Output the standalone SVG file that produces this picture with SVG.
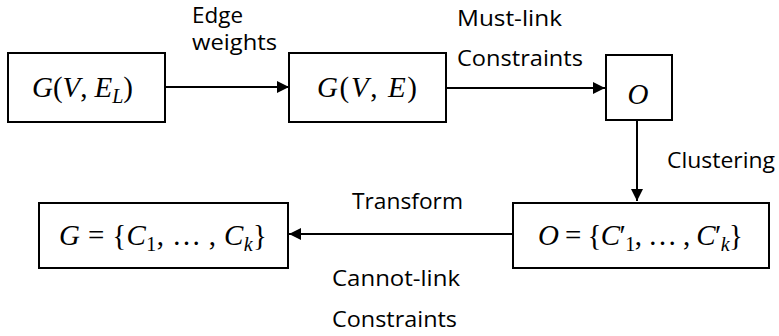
<svg xmlns="http://www.w3.org/2000/svg" width="779" height="336" viewBox="0 0 779 336">
  <style>
    .box { fill: #fff; stroke: #000; stroke-width: 2; }
    .edge { stroke: #000; stroke-width: 2; fill: none; marker-end: url(#arrow); }
    .lbl { font-family: "Open Sans", "Noto Sans", sans-serif; font-size: 21px; fill: #000; }
    .math { font-family: "Liberation Serif", "DejaVu Serif", serif; font-size: 29px; fill: #000; }
    .it { font-style: italic; }
    .sub { font-size: 20px; }
  </style>
  <defs>
    <marker id="arrow" markerWidth="12" markerHeight="12" refX="12" refY="6" orient="auto" markerUnits="userSpaceOnUse">
      <path d="M0,0 L12,6 L0,12 Z" fill="#000"/>
    </marker>
  </defs>

  <g id="connectors">
    <line class="edge" x1="165" y1="87" x2="289" y2="87"/>
    <line class="edge" x1="446" y1="88" x2="605" y2="88"/>
    <line class="edge" x1="637" y1="121" x2="637" y2="201"/>
    <line class="edge" x1="512" y1="234" x2="289" y2="234"/>
  </g>

  <g id="labels">
    <text class="lbl" x="192" y="23" textLength="51" lengthAdjust="spacingAndGlyphs">Edge</text>
    <text class="lbl" x="192" y="50" textLength="85" lengthAdjust="spacingAndGlyphs">weights</text>
    <text class="lbl" x="457" y="26" textLength="105" lengthAdjust="spacingAndGlyphs">Must-link</text>
    <text class="lbl" x="457" y="66" textLength="126" lengthAdjust="spacingAndGlyphs">Constraints</text>
    <text class="lbl" x="667" y="168" textLength="108" lengthAdjust="spacingAndGlyphs">Clustering</text>
    <text class="lbl" x="352" y="209" textLength="111" lengthAdjust="spacingAndGlyphs">Transform</text>
    <text class="lbl" x="332" y="286" textLength="128" lengthAdjust="spacingAndGlyphs">Cannot-link</text>
    <text class="lbl" x="332" y="327" textLength="125" lengthAdjust="spacingAndGlyphs">Constraints</text>
  </g>

  <g id="node-gvel">
    <rect class="box" x="8" y="53" width="157" height="69"/>
    <text class="math" x="32" y="97" textLength="101" lengthAdjust="spacing"><tspan class="it">G</tspan>(<tspan class="it">V</tspan>, <tspan class="it">E</tspan><tspan class="it sub" dy="6">L</tspan><tspan dy="-6">)</tspan></text>
  </g>

  <g id="node-gve">
    <rect class="box" x="289" y="53" width="157" height="69"/>
    <text class="math" x="317" y="97" textLength="100" lengthAdjust="spacing"><tspan class="it">G</tspan>(<tspan class="it">V</tspan>, <tspan class="it">E</tspan>)</text>
  </g>

  <g id="node-o">
    <rect class="box" x="606" y="55" width="66" height="65"/>
    <text class="math it" x="638" y="104" text-anchor="middle" font-size="40">O</text>
  </g>

  <g id="node-oclusters">
    <rect class="box" x="513" y="203" width="256" height="65"/>
    <text class="math" x="538" y="245" textLength="205" lengthAdjust="spacing"><tspan class="it">O</tspan> = {<tspan class="it">C</tspan>′<tspan class="sub" dy="6">1</tspan><tspan dy="-6">, … , </tspan><tspan class="it">C</tspan>′<tspan class="it sub" dy="6">k</tspan><tspan dy="-6">}</tspan></text>
  </g>

  <g id="node-gclusters">
    <rect class="box" x="39" y="203" width="249" height="65"/>
    <text class="math" x="59" y="245" textLength="208" lengthAdjust="spacing"><tspan class="it">G</tspan> = {<tspan class="it">C</tspan><tspan class="sub" dy="6">1</tspan><tspan dy="-6">, … , </tspan><tspan class="it">C</tspan><tspan class="it sub" dy="6">k</tspan><tspan dy="-6">}</tspan></text>
  </g>
</svg>
